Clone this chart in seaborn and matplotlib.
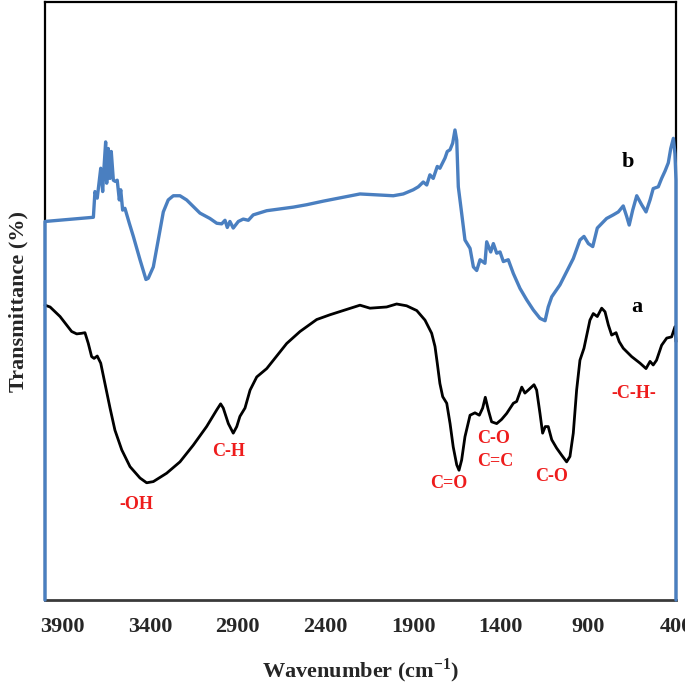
import matplotlib
matplotlib.use("Agg")
import matplotlib.pyplot as plt
import numpy as np
import pandas as pd
import seaborn as sns

# ---- data ----
wn_a = [4000, 3971, 3914, 3848, 3819, 3791, 3772, 3753, 3734, 3720, 3702, 3682, 3658, 3629,
        3601, 3562, 3515, 3458, 3420, 3382, 3306, 3230, 3154, 3078, 3020, 2998, 2983, 2954,
        2926, 2906, 2888, 2859, 2830, 2792, 2735, 2621, 2545, 2450, 2374, 2203, 2146, 2051,
        1994, 1937, 1879, 1832, 1794, 1775, 1762, 1747, 1731, 1708, 1689, 1671, 1651, 1638,
        1623, 1604, 1575, 1547, 1522, 1503, 1488, 1471, 1452, 1423, 1395, 1366, 1328, 1309,
        1280, 1262, 1243, 1210, 1195, 1176, 1161, 1146, 1129, 1109, 1081, 1052, 1024, 1005,
        986, 967, 948, 925, 891, 872, 849, 824, 805, 786, 767, 742, 724, 701, 653, 605, 571,
        548, 530, 511, 482, 453, 425, 406, 400]
t_a = [49.3, 49.0, 47.4, 44.9, 44.5, 44.6, 44.7, 42.9, 40.7, 40.4, 40.8, 39.6, 36.2, 32.1,
       28.4, 25.1, 22.3, 20.4, 19.6, 19.8, 21.2, 23.1, 25.9, 29.0, 31.8, 32.8, 32.1, 29.5,
       27.9, 29.0, 30.7, 32.1, 35.1, 37.3, 38.7, 42.9, 44.9, 46.9, 47.7, 49.3, 48.8, 49.0,
       49.5, 49.2, 48.4, 46.8, 44.6, 42.4, 39.6, 36.2, 34.0, 32.9, 29.5, 25.6, 22.6, 21.7,
       23.4, 27.3, 30.9, 31.3, 30.9, 32.1, 33.9, 31.8, 29.8, 29.5, 30.2, 31.2, 32.9, 33.2,
       35.6, 34.6, 35.1, 36.0, 35.1, 31.2, 27.9, 29.0, 29.0, 26.8, 25.4, 24.2, 23.1, 24.0,
       27.9, 35.1, 40.1, 42.1, 46.8, 47.9, 47.4, 48.8, 48.2, 46.0, 44.3, 44.7, 43.2, 42.1,
       40.7, 39.6, 38.7, 39.9, 39.3, 40.1, 42.6, 43.8, 44.0, 45.7, 43.2]

wn_b = [4000, 4000, 3724, 3715, 3702, 3690, 3682, 3671, 3663, 3654, 3648, 3639, 3629, 3622,
        3610, 3599, 3588, 3576, 3568, 3557, 3544, 3530, 3519, 3496, 3458, 3424, 3411, 3382,
        3354, 3325, 3297, 3268, 3230, 3192, 3116, 3059, 3020, 2992, 2973, 2960, 2945, 2926,
        2897, 2869, 2840, 2812, 2735, 2583, 2507, 2412, 2203, 2013, 1956, 1899, 1870, 1842,
        1822, 1804, 1785, 1762, 1747, 1718, 1705, 1689, 1674, 1661, 1651, 1642, 1623, 1604,
        1575, 1556, 1537, 1518, 1490, 1480, 1457, 1442, 1423, 1404, 1385, 1357, 1328, 1290,
        1252, 1214, 1176, 1147, 1129, 1109, 1062, 1024, 986, 948, 925, 900, 875, 849, 796,
        758, 729, 701, 681, 667, 647, 624, 596, 571, 548, 530, 501, 482, 463, 444, 430, 415,
        406, 400, 400]
t_b = [0.0, 63.3, 64.0, 68.3, 67.2, 70.2, 72.2, 68.3, 72.5, 76.6, 69.7, 75.5, 70.5, 75.0,
       70.2, 70.0, 70.2, 66.9, 68.6, 65.2, 65.5, 64.1, 63.0, 60.8, 56.9, 53.6, 53.8, 55.7,
       60.2, 64.9, 66.9, 67.6, 67.6, 66.9, 64.7, 63.8, 63.0, 62.9, 63.5, 62.3, 63.3, 62.2,
       63.3, 63.7, 63.5, 64.4, 65.1, 65.7, 66.1, 66.7, 67.9, 67.6, 67.9, 68.6, 69.1, 69.9,
       69.4, 71.1, 70.5, 72.5, 72.2, 73.9, 75.0, 75.3, 76.4, 78.6, 76.9, 69.1, 64.7, 60.2,
       58.8, 55.7, 55.1, 56.9, 56.3, 59.9, 58.2, 59.6, 58.0, 58.2, 56.6, 56.9, 54.6, 52.1,
       50.2, 48.5, 47.1, 46.7, 49.0, 50.7, 52.7, 54.9, 57.1, 60.2, 60.8, 59.6, 59.1, 62.2, 63.8,
       64.4, 64.9, 65.9, 64.1, 62.7, 65.2, 67.6, 66.1, 64.9, 66.9, 68.8, 69.1, 70.5, 71.7, 73.1,
       75.5, 77.2, 74.6, 70.2, 0.0]

xticks = [3900, 3400, 2900, 2400, 1900, 1400, 900, 400]

band_labels = ["-OH", "C-H", "C=O", "C-O", "C=C", "C-O", "-C-H-"]
band_wn = [3477, 2954, 1699, 1442, 1433, 1109, 640]
band_t = [15.9, 24.8, 19.5, 27.0, 23.1, 20.6, 34.6]

curve_names = ["a", "b"]
curve_label_wn = [624, 672]
curve_label_t = [49.0, 73.3]

# ---- style ----
sns.set_theme(style="white")
plt.rcParams["font.family"] = ["Liberation Serif", "DejaVu Serif"]
plt.rcParams["font.weight"] = "bold"
plt.rcParams["mathtext.fontset"] = "custom"
plt.rcParams["mathtext.rm"] = "Liberation Serif:bold"
plt.rcParams["mathtext.bf"] = "Liberation Serif:bold"

fig = plt.figure(figsize=(6.85, 6.88), dpi=100)
ax = fig.add_axes([45 / 685, 1 - 600 / 688, 631 / 685, 598 / 688])

df_a = pd.DataFrame({"wn": wn_a, "T": t_a})
df_b = pd.DataFrame({"wn": wn_b, "T": t_b})

sns.lineplot(data=df_a, x="wn", y="T", sort=False, estimator=None,
             color="black", linewidth=2.0, ax=ax, zorder=2)
sns.lineplot(data=df_b, x="wn", y="T", sort=False, estimator=None,
             color="#4a7fc0", linewidth=2.4, ax=ax, zorder=3)
for ln in ax.lines:
    ln.set_clip_on(False)
    ln.set_solid_joinstyle("round")

ax.set_xlim(4000, 400)
ax.set_ylim(0, 100)
ax.set_xticks(xticks)
ax.set_xticklabels([str(v) for v in xticks])
ax.set_yticks([])

ax.tick_params(axis="x", direction="out", length=5, width=1, color="#9a9a9a",
               pad=7, labelsize=16)
for lbl in ax.get_xticklabels():
    lbl.set_fontweight("bold")

for side in ["left", "top", "right"]:
    ax.spines[side].set_color("black")
    ax.spines[side].set_linewidth(1.6)
ax.spines["bottom"].set_color("#3a3a3a")
ax.spines["bottom"].set_linewidth(2.0)

ax.set_xlabel(r"Wavenumber (cm$^{\mathbf{-1}}$)", fontsize=16, fontweight="bold", labelpad=14)
ax.set_ylabel("Transmittance (%)", fontsize=16, fontweight="bold")
ax.yaxis.set_label_coords(-0.026, 0.5)

for lab, x, y in zip(band_labels, band_wn, band_t):
    ax.text(x, y, lab, color="#ee1c1c", fontsize=13, fontweight="bold",
            ha="center", va="center")

for lab, x, y in zip(curve_names, curve_label_wn, curve_label_t):
    ax.text(x, y, lab, color="black", fontsize=16, fontweight="bold",
            ha="center", va="center")

fig.savefig("out.png", dpi=100)
